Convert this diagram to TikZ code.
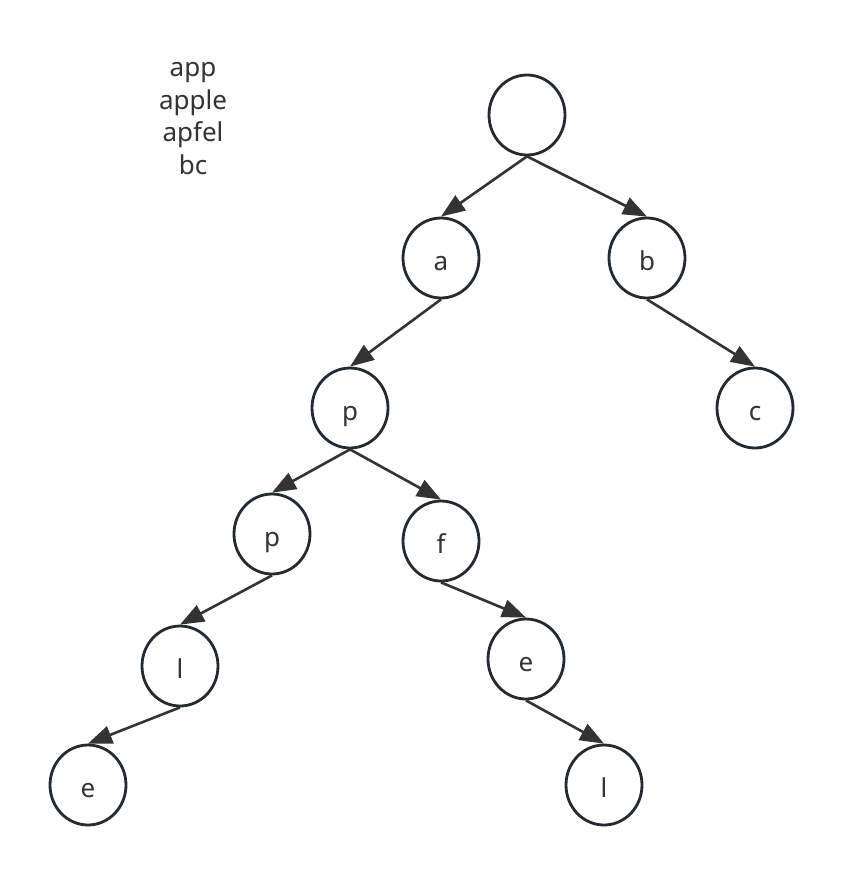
\documentclass[tikz,border=0pt]{standalone}
\usepackage{fontspec}
\setmainfont{Noto Sans}
\usetikzlibrary{shapes.geometric,arrows.meta}
\definecolor{nodeline}{HTML}{232A31}
\definecolor{edgeline}{HTML}{333333}
\definecolor{txt}{HTML}{333333}
\begin{document}
\begin{tikzpicture}[x=1pt,y=-1pt,
  trienode/.style={ellipse,draw=nodeline,line width=2.8pt,minimum width=76pt,minimum height=80pt,
    inner sep=0pt,text height=24pt,text depth=0pt,text=txt,font=\fontsize{26}{30}\selectfont},
  edge/.style={draw=edgeline,line width=2.6pt,-{Triangle[length=24pt,width=18pt]}}]
\useasboundingbox (0,0) rectangle (843,876);
\node[align=center,anchor=base,text=txt,font=\fontsize{26}{32.5}\selectfont] (words) at (193,174) {app\\apple\\apfel\\bc};
\node[trienode] (root) at (527,115) {};
\node[trienode] (a) at (441,258) {a};
\node[trienode] (b) at (647,258) {b};
\node[trienode] (p1) at (350,408) {p};
\node[trienode] (c) at (755,408) {c};
\node[trienode] (p2) at (272,534) {p};
\node[trienode] (f) at (441,541) {f};
\node[trienode] (l1) at (180,666) {l};
\node[trienode] (e2) at (526,659) {e};
\node[trienode] (e1) at (88,785) {e};
\node[trienode] (l2) at (604,785) {l};
\draw[edge] (root.south) -- (a.north);
\draw[edge] (root.south) -- (b.north);
\draw[edge] (a.south) -- (p1.north);
\draw[edge] (b.south) -- (c.north);
\draw[edge] (p1.south) -- (p2.north);
\draw[edge] (p1.south) -- (f.north);
\draw[edge] (p2.south) -- (l1.north);
\draw[edge] (l1.south) -- (e1.north);
\draw[edge] (f.south) -- (e2.north);
\draw[edge] (e2.south) -- (l2.north);
\end{tikzpicture}
\end{document}
